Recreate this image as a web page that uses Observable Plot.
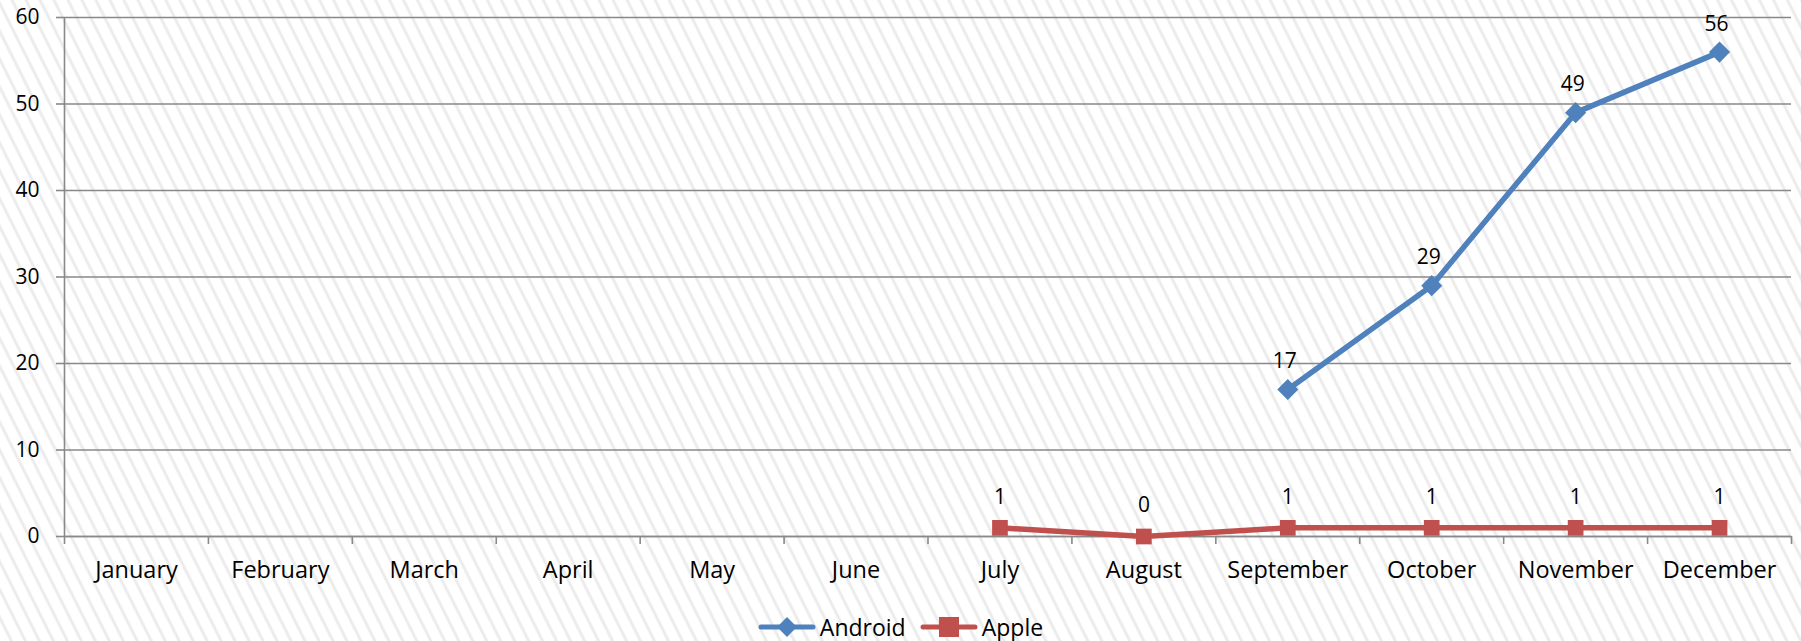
<!DOCTYPE html>
<html>
<head>
<meta charset="utf-8">
<script src="https://cdn.jsdelivr.net/npm/d3@7"></script>
<script src="https://cdn.jsdelivr.net/npm/@observablehq/plot@0.6"></script>
<style>
  html, body { margin: 0; padding: 0; }
  body {
    width: 1801px; height: 641px; overflow: hidden;
    background: repeating-linear-gradient(63.4deg, #ffffff 0px, #ffffff 8px, #ececec 9.5px, #ececec 11px, #ffffff 12.5px);
    font-family: "Open Sans", sans-serif;
  }
  #chart svg { background: transparent; display: block; }
  #legend {
    position: absolute; left: 0; top: 606px; width: 1801px; height: 42px;
    display: flex; justify-content: center; align-items: center; gap: 14px;
    font-size: 23px; color: #000;
  }
  .item { display: flex; align-items: center; gap: 4px; }
</style>
</head>
<body>
<div id="chart"></div>
<div id="legend"></div>
<script>
const months = ["January","February","March","April","May","June","July","August","September","October","November","December"];
const androidMonths = ["September","October","November","December"];
const androidValues = [17, 29, 49, 56];
const appleMonths = ["July","August","September","October","November","December"];
const appleValues = [1, 0, 1, 1, 1, 1];
const yTicks = [0, 10, 20, 30, 40, 50, 60];

const blue = "#4F81BD";
const red = "#C0504D";
const grid = "#898989";
const fsNum = 21;
const fsText = 23.5;

const idx = m => months.indexOf(m) + 0.5;
const android = androidMonths.map((m, i) => ({x: idx(m), y: androidValues[i]}));
const apple = appleMonths.map((m, i) => ({x: idx(m), y: appleValues[i]}));
const boundaries = d3.range(months.length + 1);
const centers = months.map((m, i) => i + 0.5);

const chart = Plot.plot({
  width: 1801,
  height: 606,
  marginTop: 17,
  marginBottom: 70,
  marginLeft: 64,
  marginRight: 10,
  style: {fontFamily: "Open Sans, sans-serif", fontSize: fsNum + "px", color: "#000", background: "transparent", overflow: "visible"},
  x: {domain: [0, 12]},
  y: {domain: [0, 60]},
  marks: [
    Plot.gridY(yTicks, {stroke: grid, strokeOpacity: 1, strokeWidth: 1.6}),
    Plot.axisY(yTicks, {tickSize: 8, tickPadding: 17, stroke: grid, strokeWidth: 1.6, fill: "#000", fontSize: fsNum, label: null}),
    Plot.axisX(boundaries, {tickSize: 8, tickFormat: () => "", stroke: grid, strokeWidth: 1.6, label: null}),
    Plot.axisX(centers, {tickSize: 0, tickPadding: 25, tickFormat: v => months[Math.floor(v)], fill: "#000", fontSize: fsText, label: null}),
    Plot.ruleX([0], {stroke: grid, strokeWidth: 1.6}),
    Plot.ruleY([0], {stroke: grid, strokeWidth: 1.6}),
    Plot.line(android, {x: "x", y: "y", stroke: blue, strokeWidth: 5.5}),
    Plot.line(apple, {x: "x", y: "y", stroke: red, strokeWidth: 5.5}),
    Plot.dot(android, {x: "x", y: "y", symbol: "diamond2", r: 9.5, fill: blue, stroke: "none"}),
    Plot.dot(apple, {x: "x", y: "y", symbol: "square2", r: 10, fill: red, stroke: "none"}),
    Plot.text(android, {x: "x", y: "y", text: d => String(d.y), dy: -28, dx: -3, fill: "#000", fontSize: fsNum}),
    Plot.text(apple, {x: "x", y: "y", text: d => String(d.y), dy: -31, fill: "#000", fontSize: fsNum})
  ]
});
document.getElementById("chart").appendChild(chart);

const legend = document.getElementById("legend");
const items = [
  {name: "Android", color: blue, shape: "diamond"},
  {name: "Apple", color: red, shape: "square"}
];
for (const it of items) {
  const div = document.createElement("div");
  div.className = "item";
  const marker = it.shape === "diamond"
    ? `<rect x="22" y="4" width="14" height="14" fill="${it.color}" transform="rotate(45 29 11)"/>`
    : `<rect x="19" y="1" width="20" height="20" fill="${it.color}"/>`;
  div.innerHTML = `<svg width="58" height="22"><line x1="3" y1="11" x2="55" y2="11" stroke="${it.color}" stroke-width="5" stroke-linecap="round"/>${marker}</svg><span>${it.name}</span>`;
  legend.appendChild(div);
}
</script>
</body>
</html>
